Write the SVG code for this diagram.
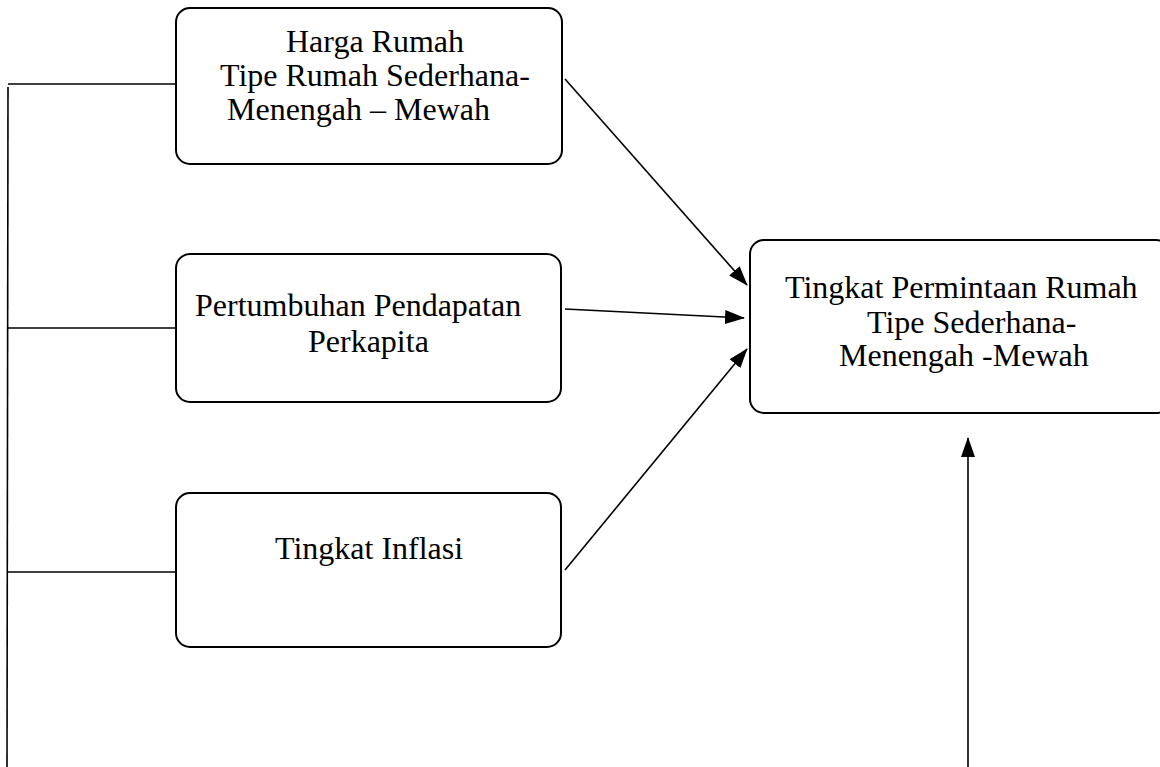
<svg xmlns="http://www.w3.org/2000/svg" width="1160" height="767" viewBox="0 0 1160 767">
<style>
.box{fill:#fff;stroke:#000;stroke-width:2}
.ln{fill:none;stroke:#000;stroke-width:1.6}
.t{font-family:"Liberation Serif","Times New Roman",serif;font-size:32px;fill:#000}
</style>
<defs>
<marker id="ah" markerWidth="20" markerHeight="14" refX="19" refY="7" orient="auto" markerUnits="userSpaceOnUse">
<path d="M0,0 L20,7 L0,14 Z" fill="#000"/>
</marker>
</defs>
<rect width="1160" height="767" fill="#fff"/>
<g id="connectors">
<line class="ln" x1="8" y1="84" x2="176" y2="84"/>
<line class="ln" x1="8" y1="87" x2="7" y2="767"/>
<line class="ln" x1="8" y1="328" x2="176" y2="328"/>
<line class="ln" x1="8" y1="572" x2="176" y2="572"/>
<line class="ln" x1="565" y1="79" x2="747" y2="285" marker-end="url(#ah)"/>
<line class="ln" x1="565" y1="309" x2="744" y2="318" marker-end="url(#ah)"/>
<line class="ln" x1="565" y1="570" x2="747" y2="349" marker-end="url(#ah)"/>
<line class="ln" x1="968" y1="767" x2="968" y2="438" marker-end="url(#ah)"/>
</g>
<g id="harga">
<rect class="box" x="176" y="8" width="386" height="156" rx="14"/>
<text class="t" x="286" y="52">Harga Rumah</text>
<text class="t" x="220" y="86">Tipe Rumah Sederhana-</text>
<text class="t" x="227" y="120">Menengah – Mewah</text>
</g>
<g id="pendapatan">
<rect class="box" x="176" y="254" width="385" height="148" rx="14"/>
<text class="t" x="195" y="316">Pertumbuhan Pendapatan</text>
<text class="t" x="308" y="352">Perkapita</text>
</g>
<g id="inflasi">
<rect class="box" x="176" y="493" width="385" height="154" rx="14"/>
<text class="t" x="275" y="559">Tingkat Inflasi</text>
</g>
<g id="permintaan">
<rect class="box" x="750" y="240" width="420" height="173" rx="14"/>
<text class="t" x="785" y="298">Tingkat Permintaan Rumah</text>
<text class="t" x="867" y="333">Tipe Sederhana-</text>
<text class="t" x="839" y="366">Menengah -Mewah</text>
</g>
</svg>
